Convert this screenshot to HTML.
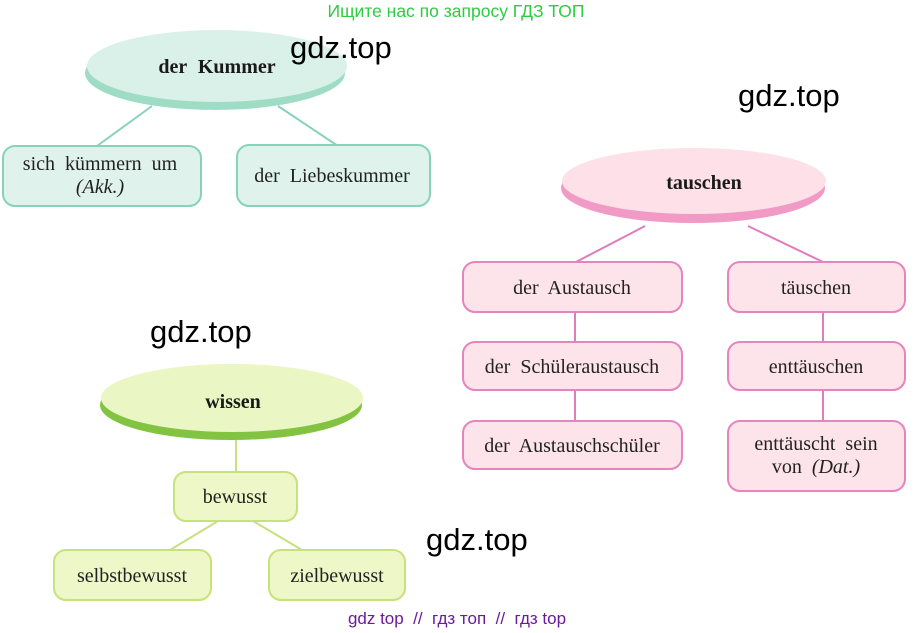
<!DOCTYPE html>
<html><head><meta charset="utf-8"><style>
html,body{margin:0;padding:0;background:#fff;}
svg{display:block;}
text{white-space:pre;}
.s{font-family:"Liberation Serif",serif;font-size:20px;fill:#222;word-spacing:5px;}
.b{font-family:"Liberation Serif",serif;font-size:20px;font-weight:bold;fill:#1a1a1a;word-spacing:6px;}
.w{font-family:"Liberation Sans",sans-serif;font-size:31px;fill:#000;}
</style></head><body>
<svg width="915" height="633" viewBox="0 0 915 633" xmlns="http://www.w3.org/2000/svg">
<text x="456" y="17" text-anchor="middle" font-family="Liberation Sans,sans-serif" font-size="17.5" fill="#2ecc40">Ищите нас по запросу ГДЗ ТОП</text>

<!-- Kummer -->
<g stroke="#86d3b8" stroke-width="2" fill="none">
<line x1="152" y1="106" x2="97" y2="146"/><line x1="278" y1="106" x2="338" y2="146"/></g>
<ellipse cx="215" cy="73" rx="130" ry="37" fill="#9fdcc6"/>
<ellipse cx="217" cy="66" rx="130" ry="36" fill="#d9f1e8"/>
<text x="217" y="73" text-anchor="middle" class="b">der Kummer</text>
<g fill="#dff2ec" stroke="#86d3b8" stroke-width="2">
<rect x="3" y="146" width="198" height="60" rx="12"/>
<rect x="237" y="145" width="193" height="61" rx="12"/></g>
<text x="100" y="170" text-anchor="middle" class="s">sich kümmern um</text>
<text x="100" y="193" text-anchor="middle" class="s" font-style="italic">(Akk.)</text>
<text x="332" y="182" text-anchor="middle" class="s">der Liebeskummer</text>

<!-- tauschen -->
<g stroke="#e07cbc" stroke-width="2" fill="none">
<line x1="645" y1="226" x2="576" y2="262"/><line x1="748" y1="226" x2="823" y2="262"/>
<line x1="575" y1="312" x2="575" y2="342"/><line x1="575" y1="390" x2="575" y2="421"/>
<line x1="823" y1="312" x2="823" y2="342"/><line x1="823" y1="390" x2="823" y2="421"/></g>
<ellipse cx="693" cy="188" rx="132" ry="35" fill="#f29ac6"/>
<ellipse cx="694" cy="181" rx="132" ry="33" fill="#fde0e8"/>
<text x="704" y="189" text-anchor="middle" class="b">tauschen</text>
<g fill="#fde3ea" stroke="#e784bd" stroke-width="2">
<rect x="463" y="262" width="219" height="50" rx="12"/>
<rect x="463" y="342" width="219" height="48" rx="12"/>
<rect x="463" y="421" width="219" height="48" rx="12"/>
<rect x="728" y="262" width="177" height="50" rx="12"/>
<rect x="728" y="342" width="177" height="48" rx="12"/>
<rect x="728" y="421" width="177" height="70" rx="12"/></g>
<text x="572" y="294" text-anchor="middle" class="s">der Austausch</text>
<text x="572" y="373" text-anchor="middle" class="s">der Schüleraustausch</text>
<text x="572" y="452" text-anchor="middle" class="s">der Austauschschüler</text>
<text x="816" y="294" text-anchor="middle" class="s">täuschen</text>
<text x="816" y="373" text-anchor="middle" class="s">enttäuschen</text>
<text x="816" y="450" text-anchor="middle" class="s">enttäuscht sein</text>
<text x="816" y="473" text-anchor="middle" class="s">von <tspan font-style="italic">(Dat.)</tspan></text>

<!-- wissen -->
<g stroke="#c6e27a" stroke-width="2" fill="none">
<line x1="236" y1="436" x2="236" y2="472"/>
<line x1="218" y1="521" x2="170" y2="550"/><line x1="253" y1="521" x2="302" y2="550"/></g>
<ellipse cx="231" cy="405" rx="131" ry="35" fill="#82c442"/>
<ellipse cx="232" cy="398" rx="131" ry="34" fill="#eaf6c4"/>
<text x="233" y="408" text-anchor="middle" class="b">wissen</text>
<g fill="#eef7c7" stroke="#c6e27a" stroke-width="2">
<rect x="174" y="472" width="123" height="49" rx="12"/>
<rect x="54" y="550" width="157" height="50" rx="12"/>
<rect x="269" y="550" width="136" height="50" rx="12"/></g>
<text x="235" y="503" text-anchor="middle" class="s">bewusst</text>
<text x="132" y="582" text-anchor="middle" class="s">selbstbewusst</text>
<text x="337" y="582" text-anchor="middle" class="s">zielbewusst</text>

<!-- watermarks -->
<text x="290" y="58" class="w">gdz.top</text>
<text x="738" y="106" class="w">gdz.top</text>
<text x="150" y="342" class="w">gdz.top</text>
<text x="426" y="550" class="w">gdz.top</text>
<text x="457" y="624" text-anchor="middle" font-family="Liberation Sans,sans-serif" font-size="17" fill="#6a1b9a">gdz top  //  гдз топ  //  гдз top</text>
</svg>
</body></html>
